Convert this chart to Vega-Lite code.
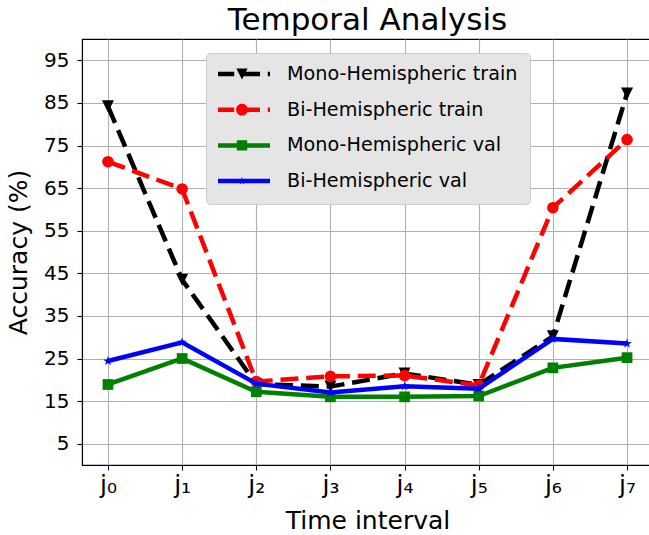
{
  "$schema": "https://vega.github.io/schema/vega-lite/v6.json",
  "autosize": {"type": "none"},
  "padding": {"left": 82, "top": 39, "right": -4, "bottom": 70},
  "width": 571,
  "height": 426,
  "background": "white",
  "config": {
    "font": "DejaVu Sans",
    "view": {"stroke": "black", "strokeWidth": 1.1},
    "axis": {
      "labelFont": "DejaVu Sans",
      "titleFont": "DejaVu Sans",
      "labelColor": "black",
      "titleColor": "black",
      "titleFontWeight": "normal",
      "labelFontSize": 20,
      "titleFontSize": 25,
      "tickColor": "black",
      "tickSize": 5,
      "tickWidth": 1.1,
      "domainColor": "black",
      "domainWidth": 1.1,
      "grid": true,
      "gridColor": "#b0b0b0",
      "gridWidth": 1.1
    }
  },
  "title": {
    "text": "Temporal Analysis",
    "fontSize": 31,
    "font": "DejaVu Sans",
    "fontWeight": "normal",
    "color": "black",
    "anchor": "middle",
    "baseline": "alphabetic",
    "offset": 11,
    "dy": 33
  },
  "data": {
    "values": [
      {"series": "Mono-Hemispheric train", "t": 0, "acc": 84.2},
      {"series": "Mono-Hemispheric train", "t": 1, "acc": 43.5},
      {"series": "Mono-Hemispheric train", "t": 2, "acc": 19.0},
      {"series": "Mono-Hemispheric train", "t": 3, "acc": 18.4},
      {"series": "Mono-Hemispheric train", "t": 4, "acc": 21.5},
      {"series": "Mono-Hemispheric train", "t": 5, "acc": 18.8},
      {"series": "Mono-Hemispheric train", "t": 6, "acc": 30.2},
      {"series": "Mono-Hemispheric train", "t": 7, "acc": 87.2},
      {"series": "Bi-Hemispheric train", "t": 0, "acc": 71.2},
      {"series": "Bi-Hemispheric train", "t": 1, "acc": 64.8},
      {"series": "Bi-Hemispheric train", "t": 2, "acc": 19.6},
      {"series": "Bi-Hemispheric train", "t": 3, "acc": 20.8},
      {"series": "Bi-Hemispheric train", "t": 4, "acc": 21.0},
      {"series": "Bi-Hemispheric train", "t": 5, "acc": 18.7},
      {"series": "Bi-Hemispheric train", "t": 6, "acc": 60.4},
      {"series": "Bi-Hemispheric train", "t": 7, "acc": 76.4},
      {"series": "Mono-Hemispheric val", "t": 0, "acc": 18.9},
      {"series": "Mono-Hemispheric val", "t": 1, "acc": 25.0},
      {"series": "Mono-Hemispheric val", "t": 2, "acc": 17.2},
      {"series": "Mono-Hemispheric val", "t": 3, "acc": 16.0},
      {"series": "Mono-Hemispheric val", "t": 4, "acc": 16.0},
      {"series": "Mono-Hemispheric val", "t": 5, "acc": 16.2},
      {"series": "Mono-Hemispheric val", "t": 6, "acc": 22.8},
      {"series": "Mono-Hemispheric val", "t": 7, "acc": 25.2},
      {"series": "Bi-Hemispheric val", "t": 0, "acc": 24.4},
      {"series": "Bi-Hemispheric val", "t": 1, "acc": 28.8},
      {"series": "Bi-Hemispheric val", "t": 2, "acc": 19.1},
      {"series": "Bi-Hemispheric val", "t": 3, "acc": 17.0},
      {"series": "Bi-Hemispheric val", "t": 4, "acc": 18.5},
      {"series": "Bi-Hemispheric val", "t": 5, "acc": 17.9},
      {"series": "Bi-Hemispheric val", "t": 6, "acc": 29.6},
      {"series": "Bi-Hemispheric val", "t": 7, "acc": 28.5}
    ]
  },
  "encoding": {
    "x": {
      "field": "t",
      "type": "quantitative",
      "scale": {"domain": [-0.35, 7.35], "nice": false, "zero": false},
      "axis": {
        "values": [0, 1, 2, 3, 4, 5, 6, 7],
        "labelExpr": "'j' + ['₀','₁','₂','₃','₄','₅','₆','₇'][datum.value]",
        "labelFontSize": 25,
        "labelPadding": 2,
        "title": "Time interval",
        "titlePadding": 11
      }
    },
    "y": {
      "field": "acc",
      "type": "quantitative",
      "scale": {"domain": [0, 100], "nice": false},
      "axis": {
        "values": [5, 15, 25, 35, 45, 55, 65, 75, 85, 95],
        "labelPadding": 8,
        "title": "Accuracy (%)",
        "titlePadding": 12
      }
    }
  },
  "layer": [
    {
      "transform": [{"filter": "datum.series === 'Mono-Hemispheric train'"}],
      "mark": {"type": "line", "color": "#000000", "strokeWidth": 4.5, "strokeDash": [18, 7.8]}
    },
    {
      "transform": [{"filter": "datum.series === 'Mono-Hemispheric train'"}],
      "mark": {"type": "point", "color": "#000000", "filled": true, "opacity": 1, "size": 144, "shape": "M-1,-1L1,-1L0,1Z"}
    },
    {
      "transform": [{"filter": "datum.series === 'Bi-Hemispheric train'"}],
      "mark": {"type": "line", "color": "#ff0000", "strokeWidth": 4.5, "strokeDash": [18, 7.8]}
    },
    {
      "transform": [{"filter": "datum.series === 'Bi-Hemispheric train'"}],
      "mark": {"type": "point", "color": "#ff0000", "filled": true, "opacity": 1, "size": 135, "shape": "circle"}
    },
    {
      "transform": [{"filter": "datum.series === 'Mono-Hemispheric val'"}],
      "mark": {"type": "line", "color": "#008000", "strokeWidth": 4.5}
    },
    {
      "transform": [{"filter": "datum.series === 'Mono-Hemispheric val'"}],
      "mark": {"type": "point", "color": "#008000", "filled": true, "opacity": 1, "size": 115, "shape": "square"}
    },
    {
      "transform": [{"filter": "datum.series === 'Bi-Hemispheric val'"}],
      "mark": {"type": "line", "color": "#0000ff", "strokeWidth": 4.5}
    },
    {
      "transform": [{"filter": "datum.series === 'Bi-Hemispheric val'"}],
      "mark": {"type": "point", "color": "#0000ff", "filled": true, "opacity": 1, "size": 100, "shape": "M0,-1L0.225,-0.309L0.951,-0.309L0.363,0.118L0.588,0.809L0,0.382L-0.588,0.809L-0.363,0.118L-0.951,-0.309L-0.225,-0.309Z"}
    },
    {
      "mark": {"type": "point", "filled": true, "opacity": 0, "size": 1},
      "encoding": {
        "fill": {
          "field": "series",
          "type": "nominal",
          "scale": {
            "domain": ["Mono-Hemispheric train", "Bi-Hemispheric train", "Mono-Hemispheric val", "Bi-Hemispheric val"],
            "range": ["#000000", "#ff0000", "#008000", "#0000ff"]
          },
          "legend": {
            "title": null,
            "orient": "none",
            "legendX": 124,
            "legendY": 14,
            "fillColor": "#e5e5e5",
            "strokeColor": "#cccccc",
            "cornerRadius": 4,
            "padding": 12,
            "symbolSize": 3136,
            "symbolStrokeWidth": 0,
            "symbolOpacity": 1,
            "clipHeight": 18,
            "rowPadding": 15.7,
            "labelOffset": 17,
            "symbolOffset": -4,
            "labelFontSize": 19.2,
            "labelFont": "DejaVu Sans",
            "labelColor": "black",
            "labelLimit": 400
          }
        },
        "shape": {
          "field": "series",
          "type": "nominal",
          "scale": {
            "domain": ["Mono-Hemispheric train", "Bi-Hemispheric train", "Mono-Hemispheric val", "Bi-Hemispheric val"],
            "range": [
              "M-0.921,-0.08H-0.279V0.08H-0.921Z M0,-0.08H0.643V0.08H0Z M0.921,-0.08H1V0.08H0.921Z M-0.2,-0.2H0.2L0,0.2Z",
              "M-0.921,-0.08H-0.279V0.08H-0.921Z M0.1,-0.08H0.643V0.08H0.1Z M0.921,-0.08H1V0.08H0.921Z M-0.21,0C-0.21,-0.116 -0.116,-0.21 0,-0.21C0.116,-0.21 0.21,-0.116 0.21,0C0.21,0.116 0.116,0.21 0,0.21C-0.116,0.21 -0.21,0.116 -0.21,0Z",
              "M-1,-0.08H1V0.08H-1Z M-0.186,-0.186H0.186V0.186H-0.186Z",
              "M-1,-0.08H1V0.08H-1Z M0,-0.15L0.034,-0.046L0.143,-0.046L0.054,0.018L0.088,0.121L0,0.057L-0.088,0.121L-0.054,0.018L-0.143,-0.046L-0.034,-0.046Z"
            ]
          },
          "legend": {
            "title": null,
            "orient": "none",
            "legendX": 124,
            "legendY": 14,
            "fillColor": "#e5e5e5",
            "strokeColor": "#cccccc",
            "cornerRadius": 4,
            "padding": 12,
            "symbolSize": 3136,
            "symbolStrokeWidth": 0,
            "symbolOpacity": 1,
            "clipHeight": 18,
            "rowPadding": 15.7,
            "labelOffset": 17,
            "symbolOffset": -4,
            "labelFontSize": 19.2,
            "labelFont": "DejaVu Sans",
            "labelColor": "black",
            "labelLimit": 400
          }
        }
      }
    }
  ]
}
